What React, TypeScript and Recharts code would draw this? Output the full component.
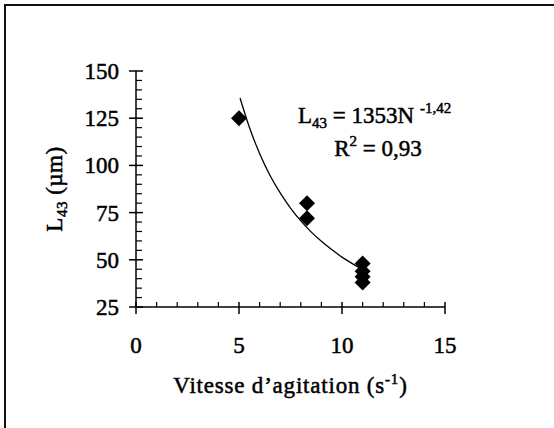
import { Customized, Scatter, ScatterChart, XAxis, YAxis } from "recharts";

// measured points: stirring speed (s-1) vs L43 (µm)
const speeds = [5, 8.3, 8.3, 11, 11, 11, 11];
const sizes = [125, 80, 72, 48, 44, 41, 38];

// power-law trend line
const fitSpeeds = [5.05, 5.5, 6, 6.5, 7, 7.5, 8, 8.5, 9, 9.5, 10, 10.5, 10.9];
const fitSizes = [135.7, 120.3, 106.3, 94.8, 85.4, 77.4, 70.6, 64.8, 59.8, 55.4, 51.4, 48.0, 45.5];

const xTicks = [0, 1, 2, 3, 4, 5, 6, 7, 8, 9, 10, 11, 12, 13, 14, 15];
const yTicks = [
  25, 30, 35, 40, 45, 50, 55, 60, 65, 70, 75, 80, 85, 90, 95, 100, 105, 110,
  115, 120, 125, 130, 135, 140, 145, 150,
];

const FONT = "'Liberation Serif', 'Times New Roman', serif";
const INK = "#000";
// a thin outline thickens Liberation Serif toward the scanned serif face
const heavy = { stroke: INK, strokeWidth: 0.5 };

const points = speeds.map((x, i) => ({ x, y: sizes[i] }));
const fit = fitSpeeds.map((x, i) => ({ x, y: fitSizes[i] }));

function Diamond(props: any) {
  const { cx, cy } = props;
  const r = 8;
  return (
    <polygon
      points={`${cx},${cy - r} ${cx + r},${cy} ${cx},${cy + r} ${cx - r},${cy}`}
      fill={INK}
    />
  );
}

function XTick(props: any) {
  const { x, y, payload } = props;
  const v = payload.value;
  if (v % 5 !== 0) {
    return <line x1={x} x2={x} y1={y} y2={y - 5} stroke={INK} strokeWidth={1.2} />;
  }
  return (
    <g>
      <line x1={x} x2={x} y1={y - 5} y2={y + 7} stroke={INK} strokeWidth={1.5} />
      <text x={x} y={y + 46} textAnchor="middle" fontFamily={FONT} fontSize={23} fill={INK} {...heavy}>
        {v}
      </text>
    </g>
  );
}

function YTick(props: any) {
  const { x, y, payload } = props;
  const v = payload.value;
  if (v % 25 !== 0) {
    return <line x1={x} x2={x + 6} y1={y} y2={y} stroke={INK} strokeWidth={1.2} />;
  }
  return (
    <g>
      <line x1={x - 7} x2={x + 7} y1={y} y2={y} stroke={INK} strokeWidth={1.5} />
      <text x={x - 17} y={y + 8} textAnchor="end" fontFamily={FONT} fontSize={23} fill={INK} {...heavy}>
        {v}
      </text>
    </g>
  );
}

function XTitle(props: any) {
  const { viewBox } = props;
  const cx = viewBox.x + viewBox.width / 2;
  return (
    <text x={cx} y={viewBox.y + 86} textAnchor="middle" fontFamily={FONT} fontSize={23} fill={INK} letterSpacing={0.8} {...heavy}>
      Vitesse d’agitation (s
      <tspan fontSize={15} dy={-9}>-1</tspan>
      <tspan dy={9}>)</tspan>
    </text>
  );
}

function YTitle(props: any) {
  const { viewBox } = props;
  const cy = viewBox.y + viewBox.height / 2;
  const cx = 62;
  return (
    <text
      x={cx}
      y={cy}
      transform={`rotate(-90 ${cx} ${cy})`}
      textAnchor="middle"
      fontFamily={FONT}
      fontSize={23}
      fill={INK}
      letterSpacing={0.5}
      {...heavy}
    >
      L<tspan fontSize={15} dy={5}>43</tspan>
      <tspan dy={-5}> (µm)</tspan>
    </text>
  );
}

function Equation() {
  return (
    <g fontFamily={FONT} fontSize={23} fill={INK} {...heavy}>
      <text x={298} y={123}>
        L<tspan fontSize={15} dy={5}>43</tspan>
        <tspan dy={-5}> = 1353N </tspan>
        <tspan fontSize={15} dy={-10}>-1,42</tspan>
      </text>
      <text x={378} y={156} textAnchor="middle">
        R<tspan fontSize={15} dy={-10}>2</tspan>
        <tspan dy={10}> = 0,93</tspan>
      </text>
    </g>
  );
}

export default function App() {
  return (
    <div style={{ position: "absolute", left: 0, top: 0, width: 554, height: 428, background: "#fff" }}>
      <div style={{ position: "absolute", left: 4, top: 4, width: 550, height: 424, borderLeft: "2px solid #111", borderTop: "2px solid #111" }} />
      <ScatterChart width={554} height={428} margin={{ top: 71, right: 109, bottom: 0, left: 56 }}>
        <XAxis
          type="number"
          dataKey="x"
          domain={[0, 15]}
          ticks={xTicks}
          interval={0}
          tickSize={0}
          tickMargin={0}
          tickLine={false}
          tick={<XTick />}
          axisLine={{ stroke: INK, strokeWidth: 1.5 }}
          height={121}
          label={{ content: <XTitle /> }}
        />
        <YAxis
          type="number"
          dataKey="y"
          domain={[25, 150]}
          ticks={yTicks}
          interval={0}
          tickSize={0}
          tickMargin={0}
          tickLine={false}
          tick={<YTick />}
          axisLine={{ stroke: INK, strokeWidth: 1.5 }}
          width={80}
          label={{ content: <YTitle /> }}
        />
        <Scatter
          data={fit}
          line={{ stroke: INK, strokeWidth: 1.3 }}
          lineJointType="monotoneX"
          shape={() => <g />}
          isAnimationActive={false}
        />
        <Scatter data={points} shape={<Diamond />} isAnimationActive={false} />
        <Customized component={<Equation />} />
      </ScatterChart>
    </div>
  );
}
